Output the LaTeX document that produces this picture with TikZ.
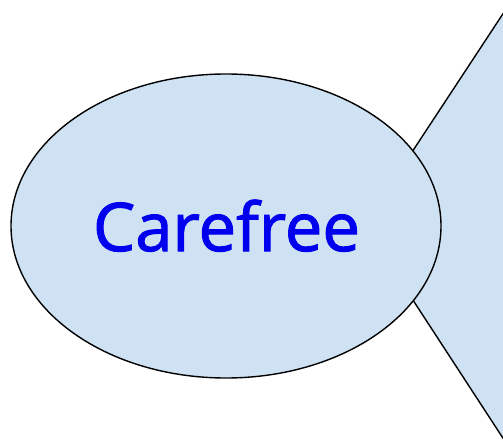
\documentclass[tikz,border=0pt]{standalone}
\usepackage{fontspec}
\setmainfont{Open Sans}
\newfontfamily\wordfont[FakeBold=1.6]{Open Sans}
\usetikzlibrary{shapes.geometric}
\definecolor{paleblue}{RGB}{207,226,243}
\definecolor{wordblue}{RGB}{0,0,238}
\tikzset{
  shapefill/.style={fill=paleblue, draw=black, line width=1.4pt, line join=round},
  bubble/.style={ellipse, shapefill, minimum width=430pt, minimum height=304pt, inner sep=0pt},
  word/.style={text=wordblue, font=\wordfont\fontsize{67}{79}\selectfont, anchor=base}
}
\begin{document}
\begin{tikzpicture}[x=1pt,y=-1pt]
  \useasboundingbox (0,0) rectangle (503,444);
  % wedge behind the bubble, running off the right edge
  \coordinate (apex) at (364,225);
  \coordinate (topend) at (512,0);
  \coordinate (botend) at (512,452);
  \begin{scope}
    \clip (0,0) rectangle (503,444);
    \filldraw[shapefill] (apex) -- (topend) -- (botend) -- cycle;
  \end{scope}
  % bubble with its word
  \node[bubble] (bubble) at (226,226) {};
  \node[word] (label) at (226.5,251) {Carefree};
\end{tikzpicture}
\end{document}
